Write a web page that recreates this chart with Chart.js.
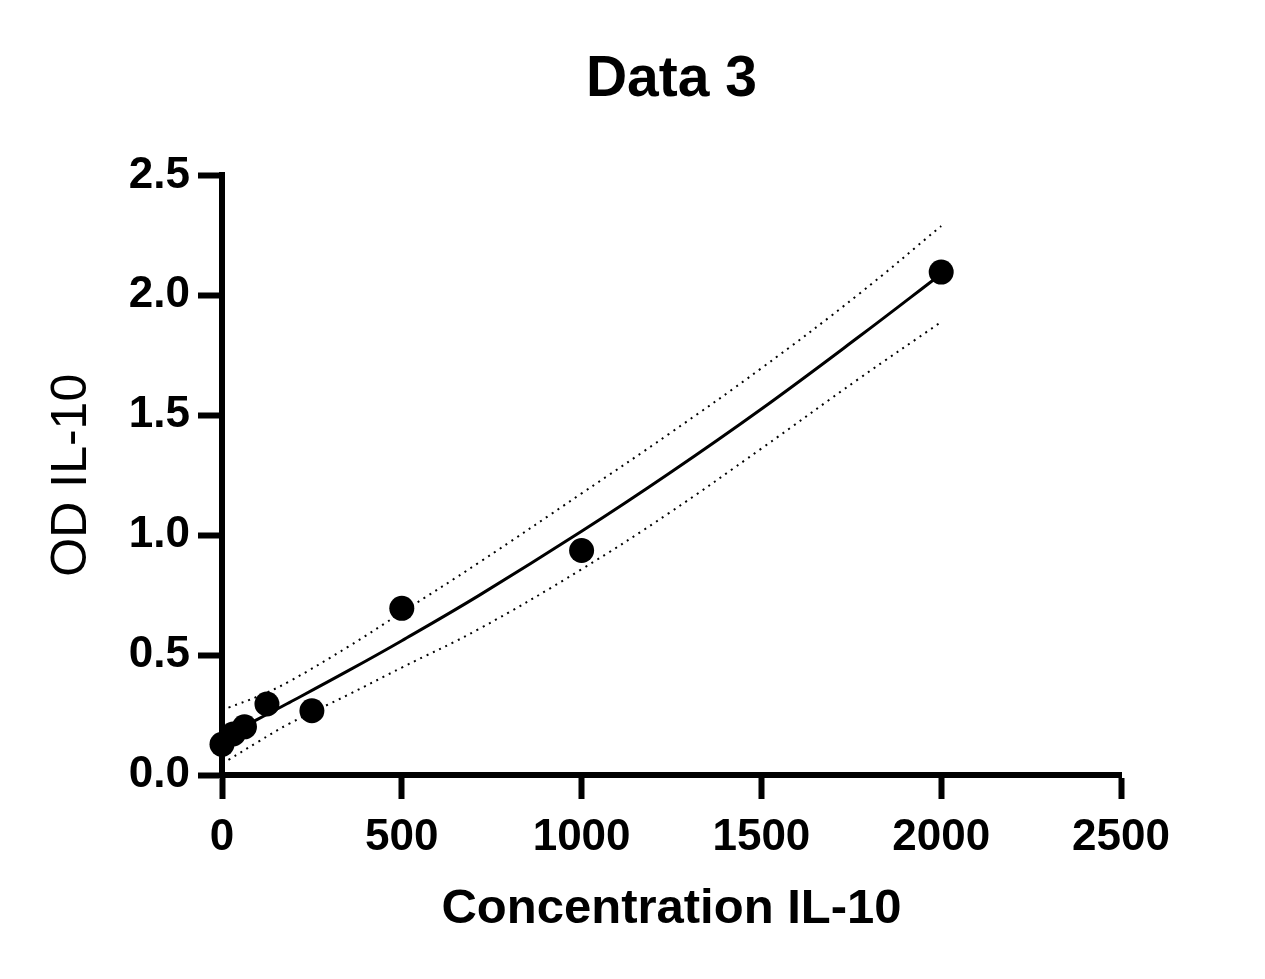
<!DOCTYPE html>
<html>
<head>
<meta charset="utf-8">
<title>Data 3</title>
<script src="https://cdn.jsdelivr.net/npm/chart.js@4.4.1/dist/chart.umd.min.js"></script>
<style>
    html, body { margin: 0; padding: 0; background: #fff; }
    #wrap { width: 1265px; height: 979px; position: relative; }
</style>
</head>
<body>
<div id="wrap"><canvas id="curveChart"></canvas></div>
<script>
// standards
const concentration = [0, 31.25, 62.5, 125, 250, 500, 1000, 2000];
const odValues = [0.128, 0.171, 0.201, 0.296, 0.268, 0.695, 0.936, 2.097];

// fitted curve, read at a few x positions
const fitX = [0, 100, 187, 350, 500, 715, 1000, 1243, 1500, 1771, 2000];
const fitY = [0.157, 0.233, 0.302, 0.434, 0.560, 0.749, 1.016, 1.257, 1.526, 1.827, 2.089];

// dotted confidence band
const bandX = [18, 100, 187, 350, 500, 715, 1000, 1243, 1500, 1771, 2000];
const upperBand = [0.281, 0.328, 0.390, 0.534, 0.678, 0.886, 1.174, 1.422, 1.696, 2.005, 2.289];
const lowerBand = [0.063, 0.138, 0.214, 0.334, 0.448, 0.609, 0.858, 1.092, 1.361, 1.652, 1.889];

// axis ticks
const xTicks = [0, 500, 1000, 1500, 2000, 2500];
const yTicks = [0, 0.5, 1.0, 1.5, 2.0, 2.5];

function toPoints(xs, ys) {
    return xs.map((x, i) => ({ x: x, y: ys[i] }));
}

document.addEventListener('DOMContentLoaded', function() {
    const font = "'Liberation Sans', Arial, sans-serif";
    const ctx = document.getElementById('curveChart').getContext('2d');

    const bandStyle = {
        showLine: true,
        pointRadius: 0,
        borderColor: '#000',
        borderWidth: 2,
        borderDash: [2, 5],
        tension: 0.4,
        fill: false,
        order: 2
    };

    new Chart(ctx, {
        type: 'scatter',
        data: {
            datasets: [
                {
                    label: 'Data 3',
                    data: toPoints(concentration, odValues),
                    pointRadius: 12.5,
                    pointBackgroundColor: '#000',
                    pointBorderWidth: 0,
                    showLine: false,
                    clip: false,
                    order: 0
                },
                {
                    label: 'Fit',
                    data: toPoints(fitX, fitY),
                    showLine: true,
                    pointRadius: 0,
                    borderColor: '#000',
                    borderWidth: 3,
                    tension: 0.4,
                    fill: false,
                    order: 1
                },
                Object.assign({ label: 'Upper', data: toPoints(bandX, upperBand) }, bandStyle),
                Object.assign({ label: 'Lower', data: toPoints(bandX, lowerBand) }, bandStyle)
            ]
        },
        options: {
            responsive: true,
            maintainAspectRatio: false,
            animation: false,
            layout: {
                padding: { left: 0, right: 144, top: 0, bottom: 0 }
            },
            plugins: {
                legend: { display: false },
                tooltip: { enabled: false },
                title: {
                    display: true,
                    text: 'Data 3',
                    fullSize: false,
                    color: '#000',
                    font: { family: font, size: 57, weight: 'bold' },
                    padding: { top: 46, bottom: 61 }
                }
            },
            scales: {
                x: {
                    type: 'linear',
                    min: xTicks[0],
                    max: xTicks[xTicks.length - 1],
                    afterFit: function(scale) { scale.height = 204; },
                    afterBuildTicks: function(scale) {
                        scale.ticks = xTicks.map(v => ({ value: v }));
                    },
                    border: { display: true, color: '#000', width: 6 },
                    grid: {
                        drawOnChartArea: false,
                        drawTicks: true,
                        tickLength: 24,
                        tickWidth: 6,
                        tickColor: '#000'
                    },
                    ticks: {
                        color: '#000',
                        padding: 12,
                        maxRotation: 0,
                        font: { family: font, size: 44, weight: 'bold' },
                        callback: v => String(v)
                    },
                    title: {
                        display: true,
                        text: 'Concentration IL-10',
                        color: '#000',
                        font: { family: font, size: 49, weight: 'bold' },
                        padding: { top: 0, bottom: 40 }
                    }
                },
                y: {
                    type: 'linear',
                    min: yTicks[0],
                    max: yTicks[yTicks.length - 1],
                    afterFit: function(scale) { scale.width = 222; },
                    afterBuildTicks: function(scale) {
                        scale.ticks = yTicks.map(v => ({ value: v }));
                    },
                    border: { display: true, color: '#000', width: 6 },
                    grid: {
                        drawOnChartArea: false,
                        drawTicks: true,
                        tickLength: 24,
                        tickWidth: 6,
                        tickColor: '#000'
                    },
                    ticks: {
                        color: '#000',
                        padding: 8,
                        font: { family: font, size: 44, weight: 'bold' },
                        callback: v => Number(v).toFixed(1)
                    },
                    title: {
                        display: true,
                        text: 'OD IL-10',
                        color: '#000',
                        font: { family: font, size: 50, weight: 'normal' },
                        padding: { top: 42, bottom: 0 }
                    }
                }
            }
        }
    });
});
</script>
</body>
</html>
